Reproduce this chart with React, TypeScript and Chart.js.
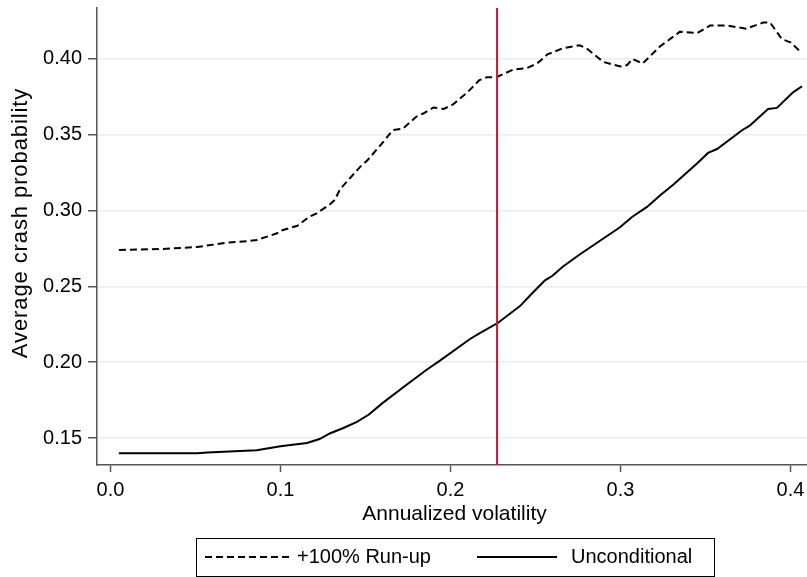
import React, { useEffect, useRef } from 'react';
import { Chart, registerables } from 'chart.js';

Chart.register(...registerables);

// +100% Run-up (dashed)
const runupVol = [0.005, 0.031, 0.051, 0.070, 0.082, 0.086, 0.098, 0.101, 0.110, 0.117, 0.121, 0.129, 0.132, 0.135, 0.141, 0.147, 0.151, 0.160, 0.166, 0.172, 0.180, 0.184, 0.190, 0.196, 0.2015, 0.210, 0.217, 0.2215, 0.227, 0.237, 0.245, 0.251, 0.257, 0.266, 0.276, 0.280, 0.290, 0.300, 0.304, 0.307, 0.313, 0.323, 0.335, 0.345, 0.3526, 0.3626, 0.374, 0.384, 0.388, 0.395, 0.400, 0.4056];
const runupProb = [0.274, 0.2747, 0.276, 0.279, 0.280, 0.2806, 0.285, 0.287, 0.290, 0.296, 0.298, 0.304, 0.307, 0.314, 0.3215, 0.329, 0.333, 0.3446, 0.353, 0.354, 0.362, 0.364, 0.368, 0.367, 0.370, 0.378, 0.386, 0.388, 0.388, 0.393, 0.394, 0.397, 0.403, 0.407, 0.409, 0.407, 0.398, 0.395, 0.396, 0.400, 0.397, 0.408, 0.418, 0.417, 0.422, 0.422, 0.420, 0.424, 0.424, 0.413, 0.411, 0.405];

// Unconditional (solid)
const uncondVol = [0.005, 0.051, 0.057, 0.086, 0.100, 0.1156, 0.123, 0.129, 0.137, 0.145, 0.152, 0.160, 0.174, 0.186, 0.1938, 0.2115, 0.217, 0.228, 0.2409, 0.2468, 0.2556, 0.260, 0.266, 0.276, 0.286, 0.2997, 0.3068, 0.3156, 0.3232, 0.331, 0.345, 0.3515, 0.3568, 0.3715, 0.376, 0.3868, 0.392, 0.4015, 0.4068];
const uncondProb = [0.140, 0.140, 0.1405, 0.142, 0.1445, 0.1467, 0.1493, 0.153, 0.1566, 0.1606, 0.1655, 0.173, 0.185, 0.195, 0.201, 0.2153, 0.219, 0.226, 0.237, 0.244, 0.254, 0.257, 0.263, 0.271, 0.2786, 0.289, 0.2958, 0.3024, 0.310, 0.317, 0.331, 0.338, 0.3406, 0.353, 0.356, 0.367, 0.3677, 0.378, 0.382];

const markerVol = 0.2274;
const seriesLabels = ['+100% Run-up', 'Unconditional'];
const xTitle = 'Annualized volatility';
const yTitle = 'Average crash probability';

const FONT = '"Liberation Sans", Arial, Helvetica, sans-serif';

const overlayPlugin = {
  id: 'overlay',
  afterDatasetsDraw(chart: any) {
    const { ctx, chartArea, scales } = chart;
    const x = scales.x.getPixelForValue(markerVol);
    ctx.save();
    ctx.strokeStyle = '#c8173a';
    ctx.lineWidth = 2;
    ctx.beginPath();
    ctx.moveTo(x, chartArea.top);
    ctx.lineTo(x, chartArea.bottom);
    ctx.stroke();
    ctx.restore();
  },
  afterDraw(chart: any) {
    const { ctx } = chart;
    ctx.save();
    ctx.fillStyle = '#000';
    // axis titles
    ctx.font = `21px ${FONT}`;
    ctx.textAlign = 'center';
    ctx.textBaseline = 'alphabetic';
    ctx.fillText(xTitle, 454.5, 520);
    ctx.save();
    ctx.translate(27, 223);
    ctx.rotate(-Math.PI / 2);
    ctx.font = `22px ${FONT}`;
    (ctx as any).letterSpacing = '0.9px';
    ctx.fillText(yTitle, 0, 0);
    ctx.restore();

    // legend
    const boxL = 196.5, boxR = 714.5, boxT = 538.5, boxB = 576.5;
    const midY = 557;
    ctx.strokeStyle = '#000';
    ctx.lineWidth = 1;
    ctx.strokeRect(boxL, boxT, boxR - boxL, boxB - boxT);
    ctx.lineWidth = 2;
    ctx.setLineDash([7, 4]);
    ctx.beginPath();
    ctx.moveTo(205, midY);
    ctx.lineTo(290, midY);
    ctx.stroke();
    ctx.setLineDash([]);
    ctx.beginPath();
    ctx.moveTo(477, midY);
    ctx.lineTo(557, midY);
    ctx.stroke();
    ctx.font = `20px ${FONT}`;
    ctx.textBaseline = 'middle';
    ctx.textAlign = 'left';
    ctx.fillText(seriesLabels[0], 297, midY);
    ctx.fillText(seriesLabels[1], 571, midY);
    ctx.restore();
  },
};

export default function App() {
  const ref = useRef<HTMLCanvasElement>(null);

  useEffect(() => {
    if (!ref.current) return;
    Chart.defaults.font.family = FONT;
    const chart = new Chart(ref.current, {
      type: 'line',
      data: {
        datasets: [
          {
            label: seriesLabels[0],
            data: runupVol.map((v, i) => ({ x: v, y: runupProb[i] })),
            borderColor: '#000',
            borderWidth: 2,
            borderDash: [7, 4],
            pointRadius: 0,
            tension: 0,
            fill: false,
          },
          {
            label: seriesLabels[1],
            data: uncondVol.map((v, i) => ({ x: v, y: uncondProb[i] })),
            borderColor: '#000',
            borderWidth: 2,
            pointRadius: 0,
            tension: 0,
            fill: false,
          },
        ],
      },
      options: {
        responsive: false,
        animation: false,
        devicePixelRatio: 1,
        layout: { padding: { top: 8, right: 0, bottom: 0, left: 0 } },
        plugins: {
          legend: { display: false },
          tooltip: { enabled: false },
        },
        scales: {
          x: {
            type: 'linear',
            min: -0.0079,
            max: 0.4097,
            afterFit: (s: any) => {
              s.height = 112;
              s.paddingLeft = 0;
              s.paddingRight = 0;
            },
            ticks: {
              stepSize: 0.1,
              includeBounds: false,
              callback: (v: any) => Number(v).toFixed(1),
              font: { size: 20, family: FONT },
              color: '#000',
              padding: 6,
              maxRotation: 0,
            },
            grid: {
              drawOnChartArea: false,
              drawTicks: true,
              tickLength: 7,
              tickColor: '#555',
              tickWidth: 1.5,
            },
            border: { color: '#555', width: 1.5 },
            title: { display: false },
          },
          y: {
            type: 'linear',
            min: 0.1322,
            max: 0.4336,
            afterFit: (s: any) => {
              s.width = 97;
              s.paddingTop = 0;
              s.paddingBottom = 0;
            },
            ticks: {
              stepSize: 0.05,
              includeBounds: false,
              callback: (v: any) => Number(v).toFixed(2),
              font: { size: 20, family: FONT },
              color: '#000',
              padding: 6,
            },
            grid: {
              color: '#e8eef0',
              lineWidth: 1.5,
              drawTicks: true,
              tickLength: 9,
              tickColor: '#555',
              tickWidth: 1.5,
            },
            border: { color: '#555', width: 1.5 },
            title: { display: false },
          },
        },
      },
      plugins: [overlayPlugin],
    } as any);
    return () => chart.destroy();
  }, []);

  return (
    <div style={{ position: 'absolute', left: 0, top: 0, width: 807, height: 577, background: '#fff' }}>
      <canvas ref={ref} width={807} height={577} style={{ display: 'block' }} />
    </div>
  );
}
